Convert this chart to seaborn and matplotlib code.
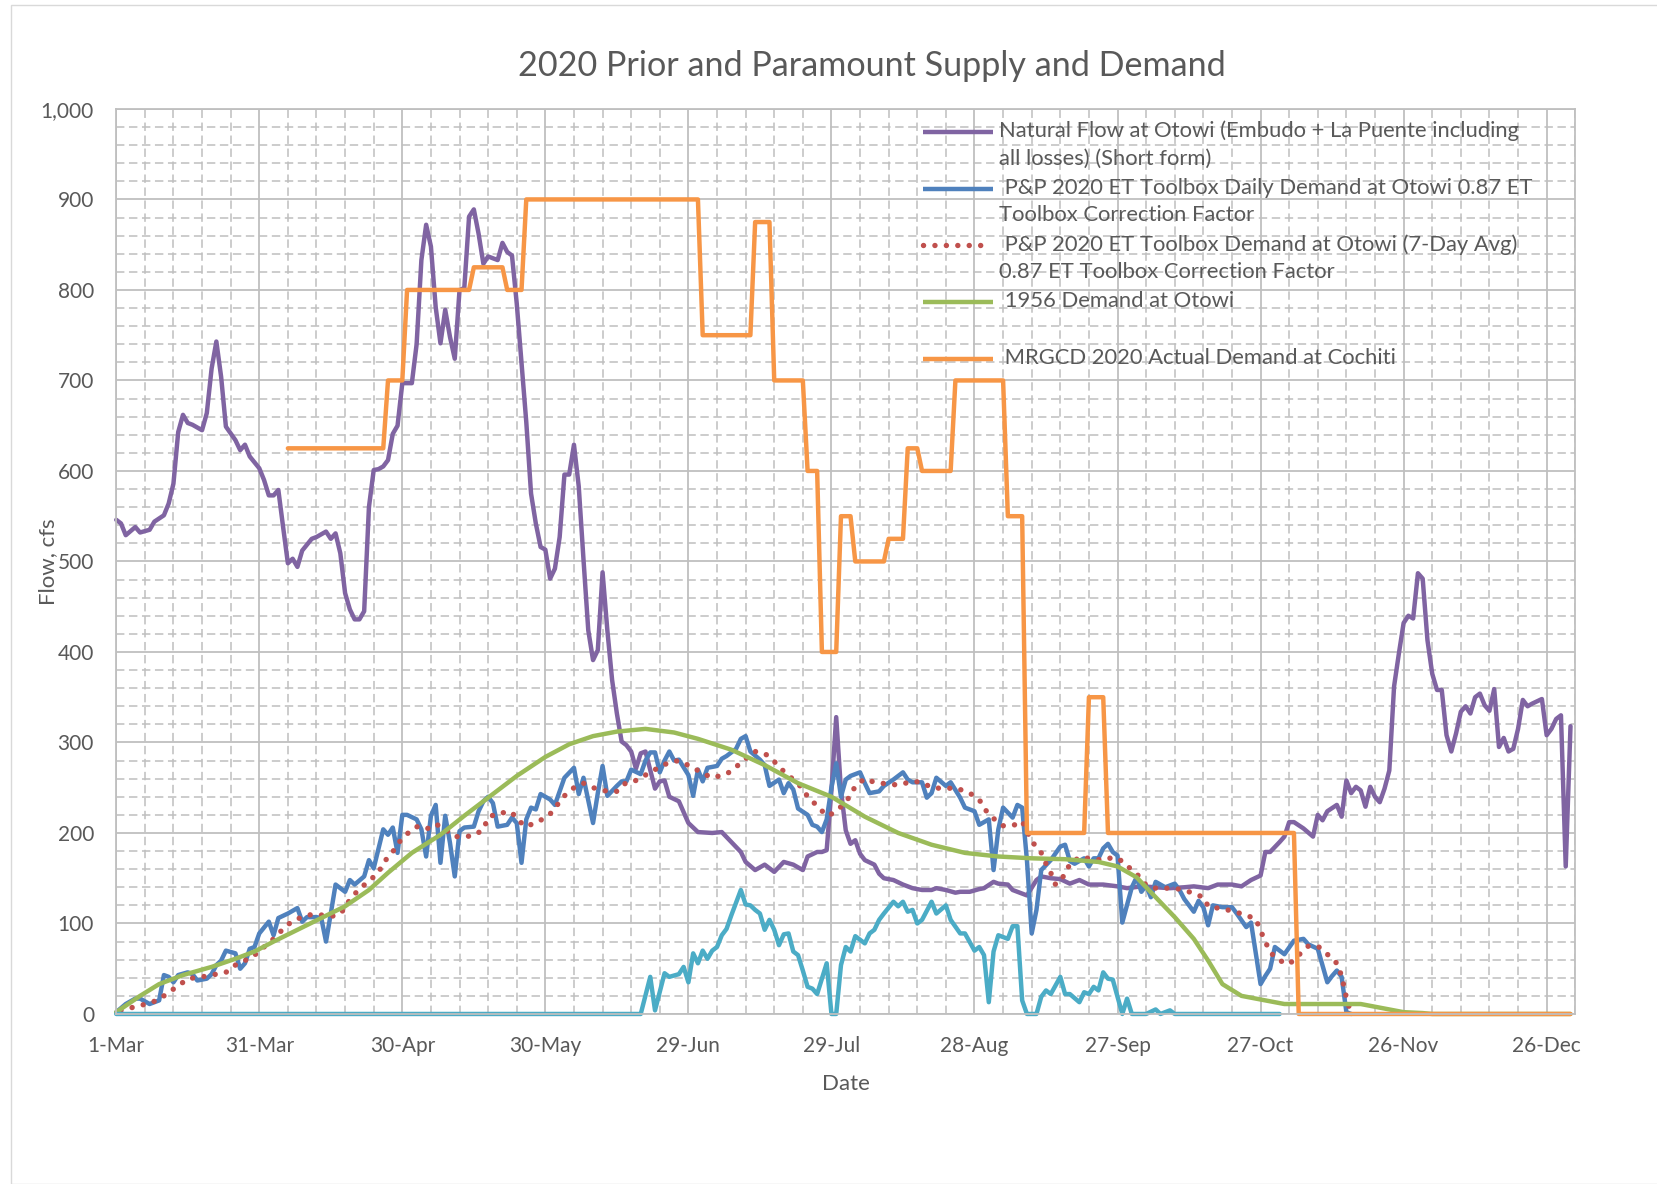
import matplotlib
matplotlib.use("Agg")
import matplotlib.pyplot as plt
import matplotlib.patches as patches
from matplotlib.ticker import FuncFormatter
import seaborn as sns

# x values are days after 1-Mar-2020
tick_days = [0, 30, 60, 90, 120, 150, 180, 210, 240, 270, 300]
tick_labels = ["1-Mar", "31-Mar", "30-Apr", "30-May", "29-Jun", "29-Jul",
               "28-Aug", "27-Sep", "27-Oct", "26-Nov", "26-Dec"]

# Natural Flow at Otowi
purple_days = [0, 1, 2, 4, 5, 7, 8, 10, 11, 12, 13, 14, 15, 16, 18, 19, 20, 21, 22, 23,
               25, 26, 27, 28, 30, 31, 32, 33, 34, 35, 36, 37, 38, 39, 41, 42, 44, 45, 46, 47,
               48, 49, 50, 51, 52, 53, 54, 55, 56, 57, 58, 59, 60, 62, 63, 64, 65, 66, 67, 68,
               69, 70, 71, 72, 73, 74, 75, 76, 77, 78, 80, 81, 82, 83, 84, 85, 86, 87, 88, 89,
               90, 91, 92, 93, 94, 95, 96, 97, 98, 99, 100, 101, 102, 103, 104, 105, 106, 107, 108, 109,
               110, 111, 113, 114, 115, 116, 118, 120, 122, 125, 127, 129, 131, 132, 134, 136, 138, 140, 142, 144,
               145, 147, 148, 149, 150, 151, 152, 153, 154, 155, 156, 157, 159, 160, 161, 163, 165, 167, 169, 171,
               172, 174, 176, 177, 179, 181, 182, 184, 185, 187, 188, 190, 191, 193, 194, 196, 198, 200, 202, 204,
               207, 210, 212, 215, 218, 221, 224, 226, 229, 231, 234, 236, 238, 240, 241, 242, 244, 245, 246, 247,
               249, 251, 252, 253, 254, 256, 257, 258, 259, 260, 261, 262, 263, 264, 265, 266, 267, 268, 269, 270,
               271, 272, 273, 274, 275, 276, 277, 278, 279, 280, 281, 282, 283, 284, 285, 286, 287, 288, 289, 290,
               291, 292, 293, 294, 295, 296, 297, 299, 300, 301, 302, 303, 304, 305]
purple_vals = [546, 542, 529, 538, 532, 535, 544, 551, 564, 586, 643, 662, 653, 651, 645, 664, 713, 743, 704, 649,
               634, 623, 629, 616, 603, 590, 573, 573, 579, 538, 498, 503, 494, 512, 525, 527, 533, 525, 531, 509,
               465, 447, 436, 436, 445, 560, 601, 602, 605, 612, 641, 650, 697, 697, 740, 833, 872, 848, 781, 741,
               778, 748, 724, 800, 802, 881, 889, 862, 829, 837, 833, 852, 842, 838, 785, 719, 654, 575, 542, 516,
               513, 481, 492, 527, 596, 596, 629, 583, 502, 424, 391, 402, 488, 424, 369, 332, 301, 297, 290, 271,
               288, 290, 249, 257, 258, 240, 235, 211, 201, 200, 201, 190, 179, 168, 159, 165, 157, 168, 165, 159,
               174, 179, 179, 181, 247, 328, 247, 203, 188, 192, 177, 170, 165, 155, 150, 148, 143, 139, 137, 137,
               139, 137, 134, 135, 135, 138, 139, 146, 144, 143, 137, 133, 131, 148, 152, 150, 149, 144, 148, 143,
               143, 141, 139, 141, 140, 139, 140, 141, 139, 143, 143, 141, 148, 153, 179, 179, 190, 196, 212, 212,
               205, 196, 220, 214, 224, 231, 218, 258, 244, 251, 247, 229, 251, 240, 234, 249, 269, 362, 398, 432,
               440, 437, 487, 481, 413, 376, 358, 358, 308, 290, 310, 334, 340, 332, 350, 354, 341, 335, 359, 295,
               305, 290, 293, 315, 347, 340, 343, 348, 308, 315, 326, 330, 163, 318]

# P&P 2020 ET Toolbox Daily Demand
blue_days = [0, 2, 4, 5, 7, 9, 10, 11, 12, 13, 15, 16, 17, 19, 20, 21, 22, 23, 25, 26,
             27, 28, 29, 30, 32, 33, 34, 36, 38, 39, 40, 42, 43, 44, 45, 46, 48, 49, 50, 52,
             53, 54, 56, 57, 58, 59, 60, 61, 63, 64, 65, 66, 67, 68, 69, 70, 71, 72, 73, 75,
             76, 77, 78, 79, 80, 82, 83, 84, 85, 86, 87, 88, 89, 91, 92, 94, 96, 97, 98, 100,
             101, 102, 103, 105, 106, 107, 108, 110, 111, 112, 113, 114, 115, 116, 117, 118, 120, 121, 122, 123,
             124, 126, 127, 128, 130, 131, 132, 133, 135, 136, 137, 139, 140, 141, 142, 143, 145, 146, 147, 148,
             149, 150, 151, 152, 153, 154, 156, 157, 158, 160, 161, 163, 165, 166, 167, 169, 170, 171, 172, 174,
             175, 177, 178, 180, 181, 183, 184, 185, 186, 188, 189, 190, 191, 192, 193, 194, 196, 198, 199, 200,
             201, 203, 204, 205, 206, 207, 208, 209, 210, 211, 213, 214, 215, 216, 217, 218, 220, 222, 223, 224,
             226, 227, 228, 229, 230, 232, 234, 235, 237, 238, 240, 241, 242, 243, 245, 247, 249, 250, 252, 254,
             255, 256, 257, 258, 259]
blue_vals = [2, 11, 17, 17, 11, 15, 43, 41, 35, 43, 46, 44, 37, 39, 44, 54, 59, 70, 67, 50,
             56, 72, 74, 89, 102, 87, 106, 111, 117, 102, 107, 107, 106, 80, 111, 143, 135, 148, 143, 152,
             170, 161, 204, 198, 206, 178, 220, 220, 215, 204, 174, 219, 231, 167, 219, 189, 152, 202, 206, 207,
             224, 235, 240, 233, 207, 209, 217, 211, 167, 215, 228, 226, 243, 237, 231, 261, 272, 243, 261, 211,
             244, 274, 241, 252, 257, 257, 270, 265, 280, 289, 289, 267, 280, 290, 280, 281, 264, 241, 270, 257,
             272, 274, 282, 285, 293, 304, 307, 290, 281, 275, 252, 259, 244, 255, 248, 227, 220, 209, 207, 201,
             215, 250, 277, 240, 259, 263, 267, 255, 244, 246, 252, 259, 267, 259, 256, 256, 239, 244, 261, 252,
             256, 239, 228, 224, 209, 215, 159, 204, 228, 217, 231, 228, 170, 89, 115, 159, 170, 185, 187, 169,
             166, 172, 163, 172, 172, 183, 188, 179, 175, 101, 140, 151, 135, 142, 129, 146, 140, 144, 137, 127,
             113, 125, 118, 98, 120, 118, 118, 111, 96, 101, 33, 42, 50, 74, 66, 81, 83, 77, 72, 35,
             42, 48, 41, 2, 0]

# P&P 2020 ET Toolbox Demand, 7-day average
red_days = [1, 4, 7, 9, 11, 13, 15, 18, 20, 23, 25, 27, 29, 31, 33, 35, 37, 39, 41, 44,
            46, 48, 49, 51, 53, 55, 56, 58, 59, 61, 63, 65, 67, 69, 71, 73, 75, 77, 78, 80,
            83, 84, 86, 89, 91, 94, 96, 98, 100, 103, 105, 107, 109, 112, 114, 116, 118, 121, 123, 125,
            128, 130, 132, 134, 136, 138, 140, 142, 144, 145, 147, 149, 150, 152, 154, 155, 157, 159, 162, 164,
            167, 169, 171, 174, 176, 179, 181, 182, 184, 186, 188, 190, 192, 194, 195, 196, 197, 199, 200, 202,
            204, 207, 209, 211, 213, 215, 216, 218, 221, 223, 225, 228, 229, 232, 234, 237, 239, 240, 241, 242,
            244, 246, 248, 250, 252, 254, 256, 257, 258, 259]
red_vals = [4, 8, 12, 16, 24, 31, 39, 41, 43, 46, 54, 59, 65, 74, 83, 94, 103, 107, 110, 109,
            108, 116, 127, 138, 147, 156, 167, 179, 188, 199, 207, 204, 210, 204, 196, 196, 197, 204, 217, 222,
            223, 215, 207, 214, 221, 241, 250, 255, 250, 246, 246, 256, 258, 267, 273, 278, 280, 272, 266, 261,
            265, 273, 282, 290, 288, 279, 268, 259, 249, 240, 230, 219, 221, 229, 241, 252, 260, 256, 254, 253,
            257, 256, 250, 249, 250, 244, 237, 227, 216, 208, 208, 213, 191, 178, 166, 156, 143, 154, 166, 173,
            172, 170, 173, 169, 159, 150, 142, 139, 139, 138, 135, 129, 119, 116, 114, 109, 105, 92, 80, 68,
            59, 55, 65, 75, 75, 66, 56, 42, 18, 0]

# 1956 Demand at Otowi
green_days = [0, 5, 9, 14, 20, 25, 29, 33, 38, 43, 48, 53, 57, 62, 68, 73, 78, 84, 90, 95,
              100, 105, 111, 117, 122, 129, 136, 143, 150, 157, 164, 171, 178, 185, 192, 199, 206, 210, 214, 218,
              222, 226, 229, 232, 236, 239, 245, 252, 261, 266, 270, 274, 276, 305]
green_vals = [2, 20, 33, 43, 52, 61, 69, 80, 93, 106, 119, 137, 156, 178, 198, 219, 239, 263, 284, 298,
              307, 312, 315, 311, 304, 292, 275, 255, 240, 218, 200, 187, 178, 174, 172, 171, 168, 163, 151, 129,
              107, 83, 59, 33, 20, 17, 11, 11, 11, 6, 2, 1, 0, 0]

# MRGCD 2020 Actual Demand at Cochiti
orange_days = [36, 56, 57, 60, 61, 74, 75, 81, 82, 85, 86, 122, 123, 133, 134, 137, 138, 144, 145, 147,
               148, 151, 152, 154, 155, 161, 162, 165, 166, 168, 169, 175, 176, 186, 187, 190, 191, 203, 204, 207,
               208, 247, 248, 305]
orange_vals = [625, 625, 700, 700, 800, 800, 825, 825, 800, 800, 900, 900, 750, 750, 875, 875, 700, 700, 600, 600,
               400, 400, 550, 550, 500, 500, 525, 525, 625, 625, 600, 600, 700, 700, 550, 550, 200, 200, 350, 350,
               200, 200, 0, 0]

# unlabelled series (light blue)
cyan_days = [0, 110, 112, 113, 115, 116, 118, 119, 120, 121, 122, 123, 124, 125, 126, 127, 128, 129, 131, 132,
             133, 134, 135, 136, 137, 138, 139, 140, 141, 142, 143, 144, 145, 146, 147, 149, 150, 151, 152, 153,
             154, 155, 157, 158, 159, 160, 161, 163, 164, 165, 166, 167, 168, 169, 171, 172, 174, 175, 177, 178,
             180, 181, 182, 183, 184, 185, 187, 188, 189, 190, 191, 193, 194, 195, 196, 198, 199, 200, 202, 203,
             204, 205, 206, 207, 208, 209, 211, 212, 213, 216, 218, 219, 221, 222, 244]
cyan_vals = [0, 0, 41, 4, 45, 41, 44, 52, 35, 67, 56, 70, 61, 70, 74, 87, 94, 109, 137, 121,
             120, 115, 111, 93, 104, 93, 76, 88, 89, 69, 65, 48, 30, 28, 22, 56, 0, 0, 54, 74,
             69, 86, 78, 89, 93, 104, 111, 124, 119, 124, 113, 115, 100, 104, 124, 111, 120, 104, 89, 89,
             70, 74, 65, 13, 69, 87, 83, 97, 97, 15, 0, 0, 19, 26, 22, 41, 22, 22, 13, 24,
             22, 30, 26, 46, 39, 38, 0, 17, 0, 0, 5, 0, 4, 0, 0]

legend_labels = ["Natural Flow at Otowi (Embudo + La Puente including\nall losses) (Short form)",
                 " P&P 2020 ET Toolbox Daily Demand at Otowi 0.87 ET\nToolbox Correction Factor",
                 " P&P 2020 ET Toolbox Demand at Otowi (7-Day Avg)\n0.87 ET Toolbox Correction Factor",
                 " 1956 Demand at Otowi",
                 " MRGCD 2020 Actual Demand at Cochiti"]

C_PURPLE = "#8064A2"
C_BLUE = "#4F81BD"
C_RED = "#C0504D"
C_GREEN = "#9BBB59"
C_ORANGE = "#F79646"
C_CYAN = "#4BACC6"
TXT = "#595959"
GRID = "#BFBFBF"

sns.set_style("white")
plt.rcParams["font.family"] = ["Lato", "DejaVu Sans"]

fig = plt.figure(figsize=(16.58, 11.84), dpi=100)
ax = fig.add_axes([0.0701, 0.1436, 0.880, 0.7644])

lw = 3.2
red_dots = (0, (0.01, 2.1))
sns.lineplot(x=purple_days, y=purple_vals, color=C_PURPLE, linewidth=lw, ax=ax, estimator=None, sort=False)
sns.lineplot(x=blue_days, y=blue_vals, color=C_BLUE, linewidth=lw, ax=ax, estimator=None, sort=False)
sns.lineplot(x=red_days, y=red_vals, color=C_RED, linewidth=3.9, ax=ax, estimator=None, sort=False)
red_line = ax.lines[-1]
red_line.set_linestyle(red_dots)
red_line.set_dash_capstyle("round")
sns.lineplot(x=green_days, y=green_vals, color=C_GREEN, linewidth=lw, ax=ax, estimator=None, sort=False)
sns.lineplot(x=orange_days, y=orange_vals, color=C_ORANGE, linewidth=lw, ax=ax, estimator=None, sort=False)
sns.lineplot(x=cyan_days, y=cyan_vals, color=C_CYAN, linewidth=lw, ax=ax, estimator=None, sort=False)
for ln in ax.lines:
    ln.set_solid_joinstyle("round")
    ln.set_clip_on(False)

ax.set_xlim(0, 306)
ax.set_ylim(0, 1000)
ax.set_xticks(tick_days)
ax.set_xticklabels(tick_labels)
ax.set_xticks(list(range(0, 307, 6)), minor=True)
ax.set_yticks(list(range(0, 1001, 100)))
ax.set_yticks(list(range(0, 1001, 20)), minor=True)
ax.yaxis.set_major_formatter(FuncFormatter(lambda v, p: f"{int(v):,}"))
ax.tick_params(which="both", length=0)
ax.tick_params(axis="y", pad=16, labelsize=15, labelcolor=TXT)
ax.tick_params(axis="x", pad=16, labelsize=15, labelcolor=TXT)
ax.set_axisbelow(True)
ax.grid(which="major", color=GRID, linewidth=1.3, linestyle="-")
ax.grid(which="minor", color=GRID, linewidth=1.1, linestyle=(0, (5.5, 3)))
for sp in ax.spines.values():
    sp.set_color(GRID)
    sp.set_linewidth(1.3)

ax.set_xlabel("Date", fontsize=16, color=TXT)
ax.set_ylabel("Flow, cfs", fontsize=16, color=TXT)
ax.xaxis.set_label_coords(0.5, -0.0773)
ax.xaxis.label.set_va("center")
ax.yaxis.set_label_coords(-0.0468, 0.5)
ax.yaxis.label.set_va("center")

fig.text(0.526, 0.944, "2020 Prior and Paramount Supply and Demand",
         ha="center", va="center", fontsize=24.6, color=TXT)

# legend drawn in the Excel layout (line beside the first text line)
leg_y = [0.9745, 0.9114, 0.8494, 0.7863, 0.7232]
leg_styles = [(C_PURPLE, "-"), (C_BLUE, "-"), (C_RED, "dot"), (C_GREEN, "-"), (C_ORANGE, "-")]
for (c, st), y, lab in zip(leg_styles, leg_y, legend_labels):
    if st == "dot":
        ax.plot([0.553, 0.598], [y, y], transform=ax.transAxes, color=c, linewidth=3.9,
                linestyle=red_dots, dash_capstyle="round", clip_on=False)
    else:
        ax.plot([0.553, 0.601], [y, y], transform=ax.transAxes, color=c, linewidth=lw,
                solid_capstyle="butt", clip_on=False)
    ax.text(0.605, y + 0.0125, lab, transform=ax.transAxes, ha="left", va="top",
            fontsize=15.8, color=TXT, linespacing=1.47)

fig.patches.append(patches.Rectangle((10.6 / 1658, 0), 1 - 10.6 / 1658, 1 - 5 / 1184,
                                     transform=fig.transFigure, fill=False,
                                     edgecolor="#D9D9D9", linewidth=1.0))

fig.savefig("out.png", dpi=100)
